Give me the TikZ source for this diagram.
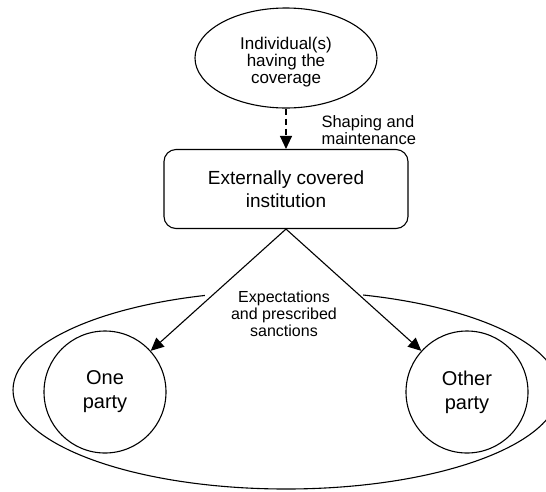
\documentclass[tikz,border=0pt]{standalone}
\usepackage{fontspec}
\setmainfont{Liberation Sans}
\usetikzlibrary{shapes.geometric,arrows.meta}
\tikzset{
  every picture/.style={line width=1.1pt},
  ell/.style={draw, ellipse, inner sep=0pt, align=center},
  instbox/.style={draw, rectangle, rounded corners=12pt, inner sep=0pt, align=center},
  party/.style={draw, circle, inner sep=0pt, minimum size=122pt, align=center, font=\fontsize{20}{24}\selectfont},
  arr/.style={-{Triangle[length=13pt,width=12pt]}},
  lbl/.style={inner sep=0pt, align=center}
}
\begin{document}
\begin{tikzpicture}[x=1pt,y=-1pt]
\useasboundingbox (0,0) rectangle (546,491);
\clip (0,0) rectangle (546,491);
\node[ell, minimum width=546pt, minimum height=198pt] (group) at (286,390) {};
\node[ell, minimum width=182pt, minimum height=100pt] (indiv) at (286,58) {};
\node[lbl, font=\fontsize{17}{17}\selectfont] (indivtext) at (286,62) {Individual(s)\\having the\\coverage};
\node[instbox, minimum width=244pt, minimum height=79pt, font=\fontsize{19}{23.5}\selectfont] (inst) at (286,189) {Externally covered\\institution};
\node[party] (one) at (105,392) {One\\party};
\node[party] (other) at (467,392) {Other\\party};
\node[lbl, fill=white, minimum width=158pt, inner ysep=3pt, font=\fontsize{16}{17}\selectfont] (expect) at (284,314) {Expectations\\and prescribed\\sanctions};
\node[lbl, anchor=west, align=left, font=\fontsize{16.5}{17}\selectfont] (shape) at (321,130) {Shaping and\\maintenance};
\draw[arr, dash pattern=on 6pt off 4pt] (indiv.south) -- (inst.north);
\draw[arr] (inst.south) -- (one);
\draw[arr] (inst.south) -- (other);
\end{tikzpicture}
\end{document}
